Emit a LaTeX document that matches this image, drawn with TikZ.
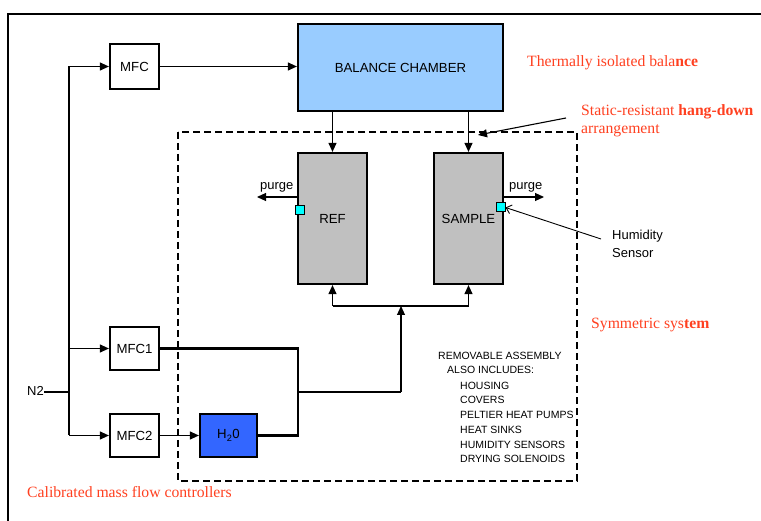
\documentclass[tikz,border=0pt]{standalone}
\usepackage{fontspec}
\setmainfont{Liberation Serif}
\setsansfont{Liberation Sans}
\usetikzlibrary{arrows.meta}
\definecolor{redtxt}{RGB}{255,64,32}
\definecolor{balblue}{RGB}{153,204,255}
\definecolor{h2oblue}{RGB}{51,102,255}
\definecolor{boxgray}{RGB}{192,192,192}
\definecolor{sensorcyan}{RGB}{0,255,255}
\tikzset{
  box/.style={draw=black, line width=2.2pt, inner sep=0pt, font=\sffamily\fontsize{13.2}{15}\selectfont},
  sensor/.style={draw=black, line width=1pt, fill=sensorcyan, minimum width=9pt, minimum height=9pt, inner sep=0pt},
  arr/.style={line width=1.1pt, -{Triangle[length=9pt,width=8pt]}},
  thickline/.style={line width=2.2pt},
  redlabel/.style={text=redtxt, font=\fontsize{15.7}{19}\selectfont, inner sep=0pt, anchor=base west},
  smalltxt/.style={font=\sffamily\fontsize{13}{15}\selectfont, inner sep=0pt, anchor=base west},
  listtxt/.style={font=\sffamily\fontsize{10.5}{12}\selectfont, inner sep=0pt, anchor=base west},
}
\begin{document}
\begin{tikzpicture}[x=1pt,y=-1pt]
\useasboundingbox (0,0) rectangle (761,521);
% outer frame (partially visible)
\draw[line width=1.3pt] (8,521) -- (8,14) -- (761,14);
% dashed assembly box
\draw[line width=2pt, dash pattern=on 7pt off 4pt] (178,132) rectangle (577,481);
% boxes
\node[box, minimum width=49pt, minimum height=45pt] (mfc) at (134.5,66.5) {MFC};
\node[box, fill=balblue, minimum width=205pt, minimum height=87pt] (bal) at (400.5,67.5) {BALANCE CHAMBER};
\node[box, fill=boxgray, minimum width=69pt, minimum height=131pt] (ref) at (332.5,218.5) {REF};
\node[box, fill=boxgray, minimum width=69pt, minimum height=131pt] (sample) at (468.5,218.5) {SAMPLE};
\node[box, minimum width=49pt, minimum height=43pt] (mfc1) at (134.5,348.5) {MFC1};
\node[box, minimum width=49pt, minimum height=43pt] (mfc2) at (134.5,435.5) {MFC2};
\node[box, fill=h2oblue, minimum width=57pt, minimum height=43pt] (h2o) at (228.5,435.5) {H\textsubscript{2}0};
% sensors
\node[sensor] (sref) at (300,210) {};
\node[sensor] (ssam) at (500.5,207.5) {};
% N2 feed
\node[smalltxt] (n2) at (27,396) {N2};
\coordinate (n2j) at (69,392);
\coordinate (ftop) at (69,66.5);
\coordinate (f1) at (69,348.5);
\coordinate (f2) at (69,435.5);
\draw[thickline] (n2.east |- n2j) -- (n2j);
\draw[thickline] (ftop) -- (f2);
\draw[arr] (ftop) -- (mfc.west);
\draw[arr] (f1) -- (mfc1.west);
\draw[arr] (f2) -- (mfc2.west);
% MFC -> balance
\draw[arr] (mfc.east) -- (mfc.east -| bal.west);
% balance -> ref / sample
\draw[arr] (bal.south -| ref.north) -- (ref.north);
\draw[arr] (bal.south -| sample.north) -- (sample.north);
% purge
\coordinate (pl) at (257,197);
\coordinate (pr) at (544,197);
\draw[arr] (ref.west |- pl) -- (pl);
\draw[arr] (sample.east |- pr) -- (pr);
\node[smalltxt] (purgel) at (260,190) {purge};
\node[smalltxt] (purger) at (509,190) {purge};
% humidity sensor label
\node[smalltxt] (hum) at (612,240) {Humidity};
\node[smalltxt] (sens) at (612,257.5) {Sensor};
\coordinate (humtail) at (601,239);
\draw[line width=0.9pt, -{Straight Barb[length=5pt,width=9pt]}] (humtail) -- (ssam.east);
% MFC2 -> H2O, mixing
\draw[arr] (mfc2.east) -- (h2o.west);
\coordinate (mx) at (298,392);
\coordinate (mxb) at (298,435.5);
\coordinate (mxt) at (298,348.5);
\draw[thickline] (mfc1.east) -- (mxt) -- (mxb) -- (h2o.east);
\coordinate (up) at (401,392);
\coordinate (upt) at (401,306);
\draw[thickline] (mx) -- (up);
\draw[arr] (up) -- (upt);
\coordinate (bl) at (332.5,306);
\coordinate (br) at (468.5,306);
\draw[thickline] (bl) -- (br);
\draw[arr] (bl) -- (ref.south);
\draw[arr] (br) -- (sample.south);
% red annotations
\node[redlabel] (t1) at (527,67) {Thermally isolated bala\textbf{nce}};
\node[redlabel] (t2) at (581,116) {Static-resistant \textbf{hang-down}};
\node[redlabel] (t3) at (581,134) {arrangement};
\node[redlabel] (t4) at (591,329) {Symmetric sys\textbf{tem}};
\node[redlabel] (t5) at (27,497.5) {Calibrated mass flow controllers};
\coordinate (statail) at (566,118);
\coordinate (stahead) at (478,135);
\draw[arr] (statail) -- (stahead);
% removable assembly list
\node[listtxt] (l1) at (438,359.3) {REMOVABLE ASSEMBLY};
\node[listtxt] (l2) at (447,374) {ALSO INCLUDES:};
\node[listtxt] (l3) at (460,389.3) {HOUSING};
\node[listtxt] (l4) at (460,404) {COVERS};
\node[listtxt] (l5) at (460,418.7) {PELTIER HEAT PUMPS};
\node[listtxt] (l6) at (460,434) {HEAT SINKS};
\node[listtxt] (l7) at (460,448.3) {HUMIDITY SENSORS};
\node[listtxt] (l8) at (460,462.3) {DRYING SOLENOIDS};
\end{tikzpicture}
\end{document}
